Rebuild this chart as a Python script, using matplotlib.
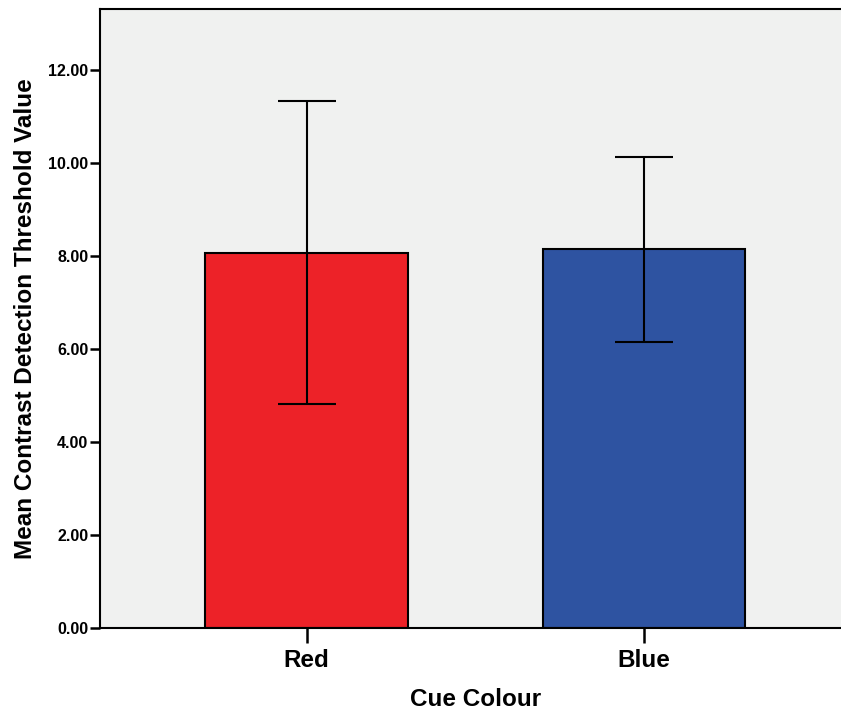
import matplotlib
matplotlib.use("Agg")
import matplotlib.pyplot as plt

categories = ["Red", "Blue"]
means = [8.06, 8.15]
err_low = [4.81, 6.15]
err_high = [11.33, 10.12]
colors = ["#ED2228", "#2E53A1"]
yticks = [0, 2, 4, 6, 8, 10, 12]

plt.rcParams['font.family'] = ['Liberation Sans', 'DejaVu Sans']

W, H = 841, 713
fig = plt.figure(figsize=(W / 100, H / 100), dpi=100)
ax = fig.add_axes([100 / W, (H - 628) / H, 750.5 / W, (628 - 9) / H])
ax.set_facecolor("#F0F1F0")

x = list(range(len(categories)))
yerr = [[m - lo for m, lo in zip(means, err_low)], [hi - m for m, hi in zip(means, err_high)]]
ax.bar(x, means, width=0.6, color=colors, edgecolor="black", linewidth=1.5, zorder=2)
ax.errorbar(x, means, yerr=yerr, fmt="none", ecolor="black", elinewidth=1.5,
            capsize=20.7, capthick=1.5, zorder=3)

ax.set_xlim(-0.612, 1.612)
ax.set_ylim(0, 13.31)
ax.set_yticks(yticks)
ax.set_yticklabels([f"{v:.2f}" for v in yticks], fontsize=11.5, fontweight="bold")
ax.set_xticks(x)
ax.set_xticklabels(categories, fontsize=17.5, fontweight="bold")
ax.tick_params(axis="y", length=7.5, width=1.8, pad=1)
ax.tick_params(axis="x", length=11, width=1.8, pad=4)

for s in ["left", "bottom", "top", "right"]:
    ax.spines[s].set_linewidth(1.5)

ax.set_xlabel("Cue Colour", fontsize=17.5, fontweight="bold", labelpad=12)
ax.set_ylabel("Mean Contrast Detection Threshold Value", fontsize=17.5, fontweight="bold", labelpad=8)

fig.savefig("out.png", dpi=100)
